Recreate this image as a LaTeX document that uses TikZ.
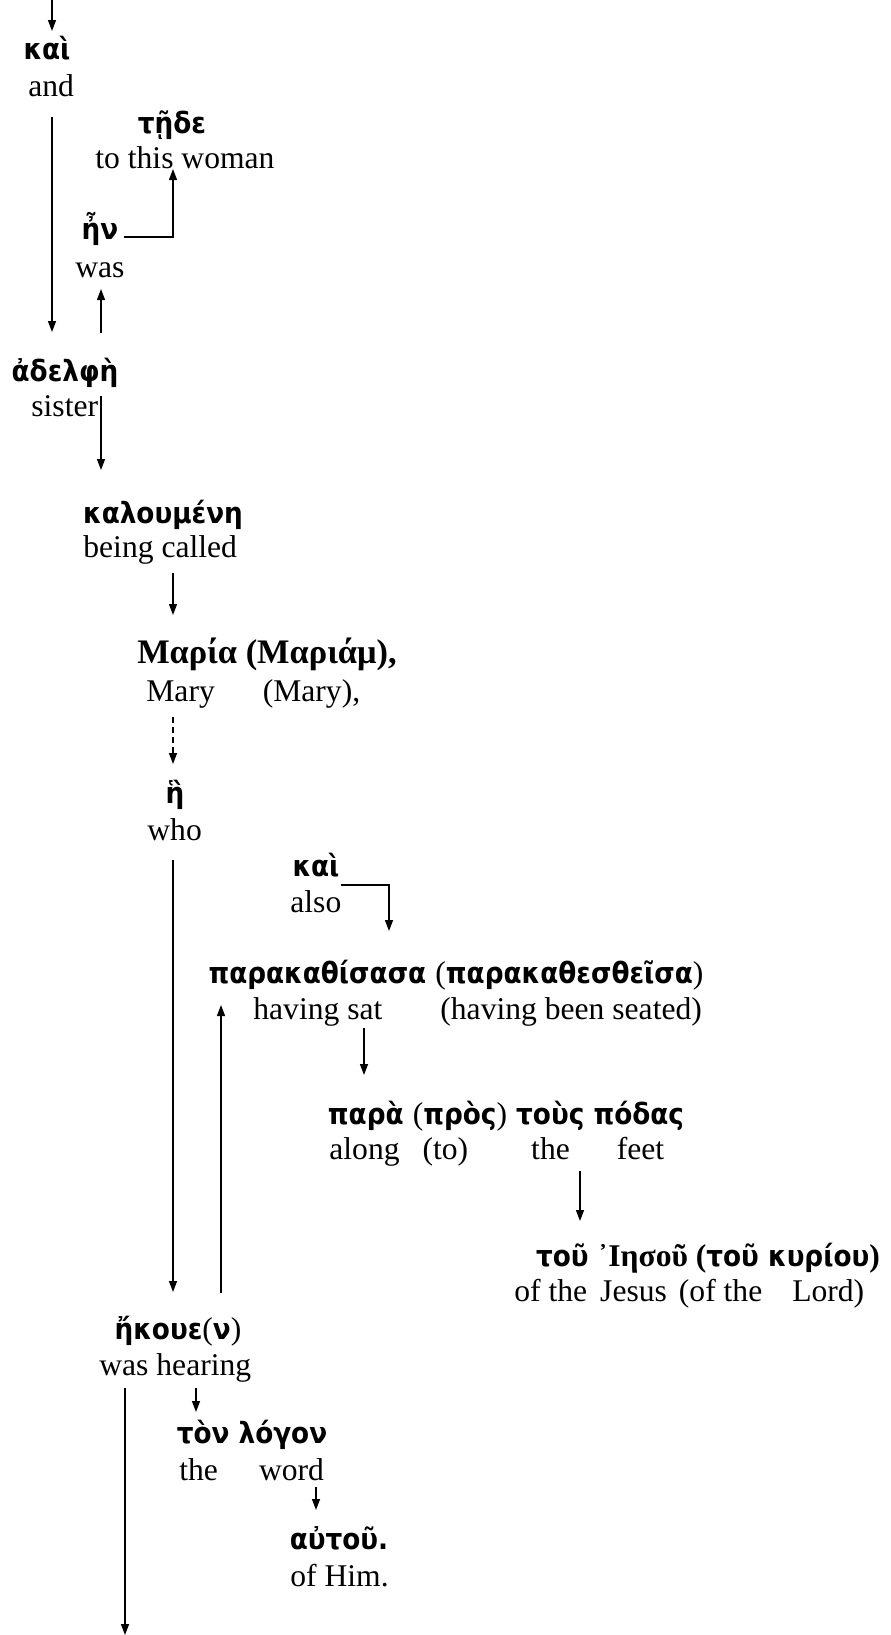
\documentclass[tikz,border=0pt]{standalone}
\usepackage{fontspec}
\setmainfont{Liberation Serif}
\newfontfamily\grk{DejaVu Sans}[FakeStretch=0.9]
\usetikzlibrary{arrows.meta,calc}
% serif parentheses inside the Greek lines
\newcommand{\lpar}{{\rmfamily\mdseries\fontsize{15.8pt}{18pt}\selectfont(}}
\newcommand{\rpar}{{\rmfamily\mdseries\fontsize{15.8pt}{18pt}\selectfont)}}
\newcommand{\serifbf}{\rmfamily\bfseries\fontsize{15.8pt}{18pt}\selectfont}
\tikzset{
  gk/.style={inner sep=0pt, anchor=base, font=\grk\bfseries\fontsize{14.6pt}{17pt}\selectfont},
  gs/.style={inner sep=0pt, anchor=base, font=\rmfamily\bfseries\fontsize{17.2pt}{20pt}\selectfont},
  en/.style={inner sep=0pt, anchor=base west, font=\fontsize{15.8pt}{18pt}\selectfont},
  arr/.style={line width=0.65pt, -{Triangle[length=5.5pt,width=4pt]}},
  darr/.style={arr, dash pattern=on 3pt off 2pt},
}
\begin{document}
\begin{tikzpicture}[x=0.5pt,y=-0.5pt]
\useasboundingbox (0,0) rectangle (890,1635);

% Greek words and their glosses
\node[gk] (kai1)  at (47,59)    {καὶ};
\node[en] (and)   at (28,96)    {and};
\node[gk] (tede)  at (172,133)  {τῇδε};
\node[en] (woman) at (95,168)   {to this woman};
\node[gk] (en)    at (100,239)  {ἦν};
\node[en] (was)   at (75,277)   {was};
\node[gk] (adel)  at (65,381)   {ἀδελφὴ};
\node[en] (sister) at (31,416)  {sister};
\node[gk] (kal)   at (163,523)  {καλουμένη};
\node[en] (called) at (83,557)  {being called};
\node[gs] (maria) at (267,663)  {Μαρία (Μαριάμ),};
\node[en] (mary)  at (146,701)  {Mary\hspace{24pt}(Mary),};
\node[gk] (he)    at (175,803)  {ἣ};
\node[en] (who)   at (147,840)  {who};
\node[gk] (kai2)  at (316,876)  {καὶ};
\node[en] (also)  at (290,912)  {also};
\node[gk] (para)  at (456,983)  {παρακαθίσασα \lpar παρακαθεσθεῖσα\rpar};
\node[en] (sat)   at (253,1019) {having sat\hspace{29pt}(having been seated)};
\node[gk] (feetg) at (506,1124) {παρὰ \lpar πρὸς\rpar{} τοὺς πόδας};
\node[en] (along) at (329,1159) {along\hspace{11.5pt}(to)\hspace{31.5pt}the\hspace{23.5pt}feet};
\node[gk] (jesus) at (708,1266) {τοῦ {\serifbf ᾿Ιησοῦ (}τοῦ κυρίου{\serifbf )}};
\node[en] (ofj)   at (514,1301) {of the\hspace{6.5pt}Jesus\hspace{6pt}(of the\hspace{15pt}Lord)};
\node[gk] (ekoue) at (178,1339) {ἤκουε\lpar ν\rpar};
\node[en] (hear)  at (99,1375)  {was hearing};
\node[gk] (logon) at (252,1443) {τὸν λόγον};
\node[en] (word)  at (179,1480) {the\hspace{20.5pt}word};
\node[gk] (autou) at (339,1549) {αὐτοῦ.};
\node[en] (him)   at (290,1586) {of Him.};

\coordinate (top) at (52,0);
\coordinate (bottom) at (125,1635);

% connectors
\draw[arr] (top) -- ($(kai1.base)+(5,-28)$);
\draw[arr] ($(and.base west)+(24,21)$) -- ($(adel.base)+(-13,-49)$);
\draw[arr] ($(en.base)+(24,-2)$) -| ($(tede.base)+(1,36)$);
\draw[arr] ($(adel.base)+(36,-48)$) -- ($(was.base west)+(26,12)$);
\draw[arr] ($(sister.base west)+(70,-20)$) -- ($(kal.base)+(-62,-53)$);
\draw[arr] ($(called.base west)+(90,16)$) -- ($(maria.base)+(-94,-48)$);
\draw[darr] ($(mary.base west)+(27,16)$) -- ($(he.base)+(-2,-39)$);
\draw[arr] ($(who.base west)+(26,20)$) -- ($(ekoue.base)+(-5,-47)$);
\draw[arr] ($(also.base west)+(51,-27)$) -| ($(para.base)+(-67,-52)$);
\draw[arr] ($(ekoue.base)+(43,-46)$) -- ($(para.base)+(-235,22)$);
\draw[arr] ($(sat.base west)+(111,9)$) -- ($(feetg.base)+(-142,-49)$);
\draw[arr] ($(along.base west)+(251,12)$) -- ($(jesus.base)+(-128,-45)$);
\draw[arr] ($(hear.base west)+(26,13)$) -- (bottom);
\draw[arr] ($(hear.base west)+(97,13)$) -- ($(logon.base)+(-56,-31)$);
\draw[arr] ($(word.base west)+(137,7)$) -- ($(autou.base)+(-23,-39)$);
\end{tikzpicture}
\end{document}
